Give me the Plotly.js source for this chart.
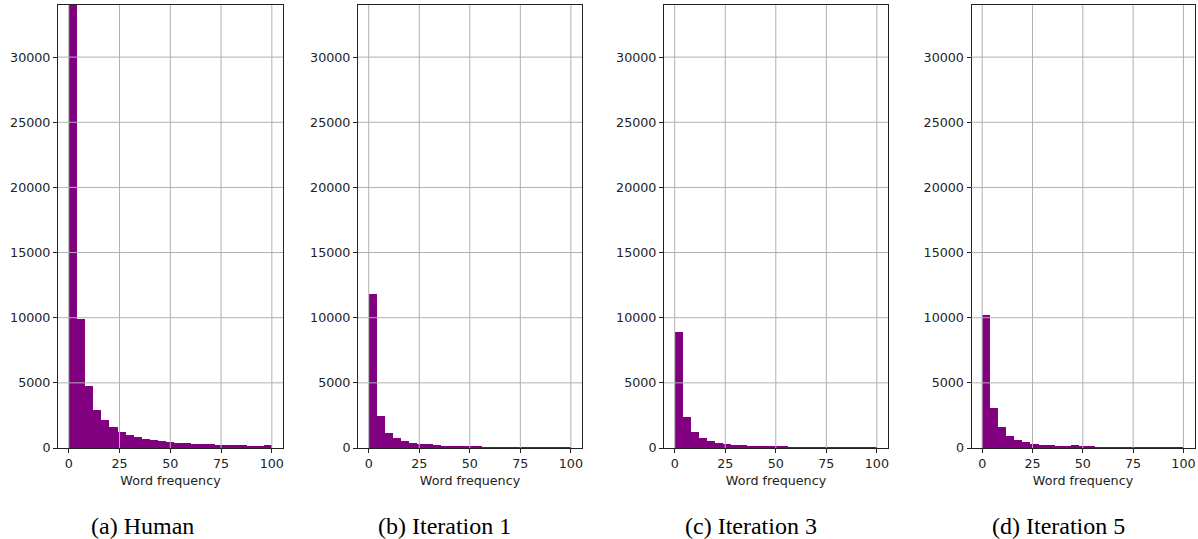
<!DOCTYPE html>
<html><head><meta charset="utf-8">
<script src="https://cdn.plot.ly/plotly-3.0.1.min.js"></script>
<style>html,body{margin:0;padding:0;background:#fff}</style>
</head><body><div id="chart" style="width:1198px;height:539px"></div>
<script>
// Histogram bin edges (word frequency)
const binEdges = [0,4,8,12,16,20,24,28,32,36,40,44,48,52,56,60,64,68,72,76,80,84,88,92,96,100];
// Counts per bin
const human = [34000,9870,4740,2880,2120,1590,1200,990,820,680,600,520,450,380,360,290,285,280,210,205,200,195,140,130,200];
const iter1 = [11790,2490,1190,800,565,410,335,285,255,180,125,125,120,120,115,115,75,70,70,65,65,65,60,60,60];
const iter3 = [8870,2410,1255,800,565,385,310,260,250,180,175,125,120,120,115,115,115,110,70,65,65,65,60,60,60];
const iter5 = [10180,3100,1575,950,640,490,335,260,250,180,130,205,125,120,115,115,70,65,65,65,60,60,60,60,60];
const captions = ["(a) Human","(b) Iteration 1","(c) Iteration 3","(d) Iteration 5"];
const xTitle = "Word frequency";
const xTicks = [0,25,50,75,100];
const yTicks = [0,5000,10000,15000,20000,25000,30000];
const yMax = 34000;

const series = [human, iter1, iter3, iter5];
const centers = binEdges.slice(0,-1).map((e,i)=>(e+binEdges[i+1])/2);
const widths = binEdges.slice(0,-1).map((e,i)=>binEdges[i+1]-e);

const W = 1198, H = 539;
const xDomainsPx = [[58,283],[358,582],[664,888],[971.5,1194.5]];
const captionX = [142.5,444,751,1058];
const yDomain = [1-448/H, 1-5/H];

const traces = [];
const layout = {
  width: W, height: H,
  margin: {l:0,r:0,t:0,b:0},
  paper_bgcolor: '#fff', plot_bgcolor: '#fff',
  showlegend: false,
  bargap: 0,
  font: {family: 'DejaVu Sans', size: 12.7, color: '#222'},
  shapes: [], annotations: []
};

series.forEach((vals, i) => {
  const s = i === 0 ? '' : String(i+1);
  traces.push({
    type: 'bar', x: centers, y: vals, width: widths,
    marker: {color: '#800080', line: {width: 0}},
    xaxis: 'x'+s, yaxis: 'y'+s, hoverinfo: 'x+y'
  });
  const dom = xDomainsPx[i];
  layout['xaxis'+s] = {
    domain: [dom[0]/W, dom[1]/W], anchor: 'y'+s,
    range: [-5.3, 105.5], tickvals: xTicks, ticktext: xTicks.map(String),
    ticks: 'outside', ticklen: 4, tickcolor: '#222', tickwidth: 1,
    showline: true, mirror: true, linecolor: '#222', linewidth: 1,
    showgrid: false, zeroline: false,
    tickfont: {family: 'DejaVu Sans', size: 12.7, color: '#222'},
    title: {text: xTitle, standoff: 5, font: {family: 'DejaVu Sans', size: 12.7, color: '#222'}},
    layer: 'above traces'
  };
  layout['yaxis'+s] = {
    domain: yDomain, anchor: 'x'+s,
    range: [0, yMax], tickvals: yTicks, ticktext: yTicks.map(String),
    ticks: 'outside', ticklen: 4, tickcolor: '#222', tickwidth: 1,
    showline: true, mirror: true, linecolor: '#222', linewidth: 1,
    showgrid: false, zeroline: false,
    tickfont: {family: 'DejaVu Sans', size: 12.7, color: '#222'},
    layer: 'above traces'
  };
  // grid lines drawn above bars (as in the reference)
  xTicks.forEach(t => layout.shapes.push({
    type: 'line', xref: 'x'+s, yref: 'y'+s+' domain', x0: t, x1: t, y0: 0, y1: 1,
    line: {color: '#b0b0b0', width: 1}, layer: 'above'
  }));
  yTicks.filter(t => t > 0).forEach(t => layout.shapes.push({
    type: 'line', xref: 'x'+s+' domain', yref: 'y'+s, x0: 0, x1: 1, y0: t, y1: t,
    line: {color: '#b0b0b0', width: 1}, layer: 'above'
  }));
  layout.annotations.push({
    text: captions[i], xref: 'paper', yref: 'paper',
    x: captionX[i]/W, y: 1-526/H, xanchor: 'center', yanchor: 'middle',
    showarrow: false, font: {family: 'Liberation Serif', size: 24, color: '#000'}
  });
});

Plotly.newPlot('chart', traces, layout, {displayModeBar: false, staticPlot: true});
</script></body></html>
